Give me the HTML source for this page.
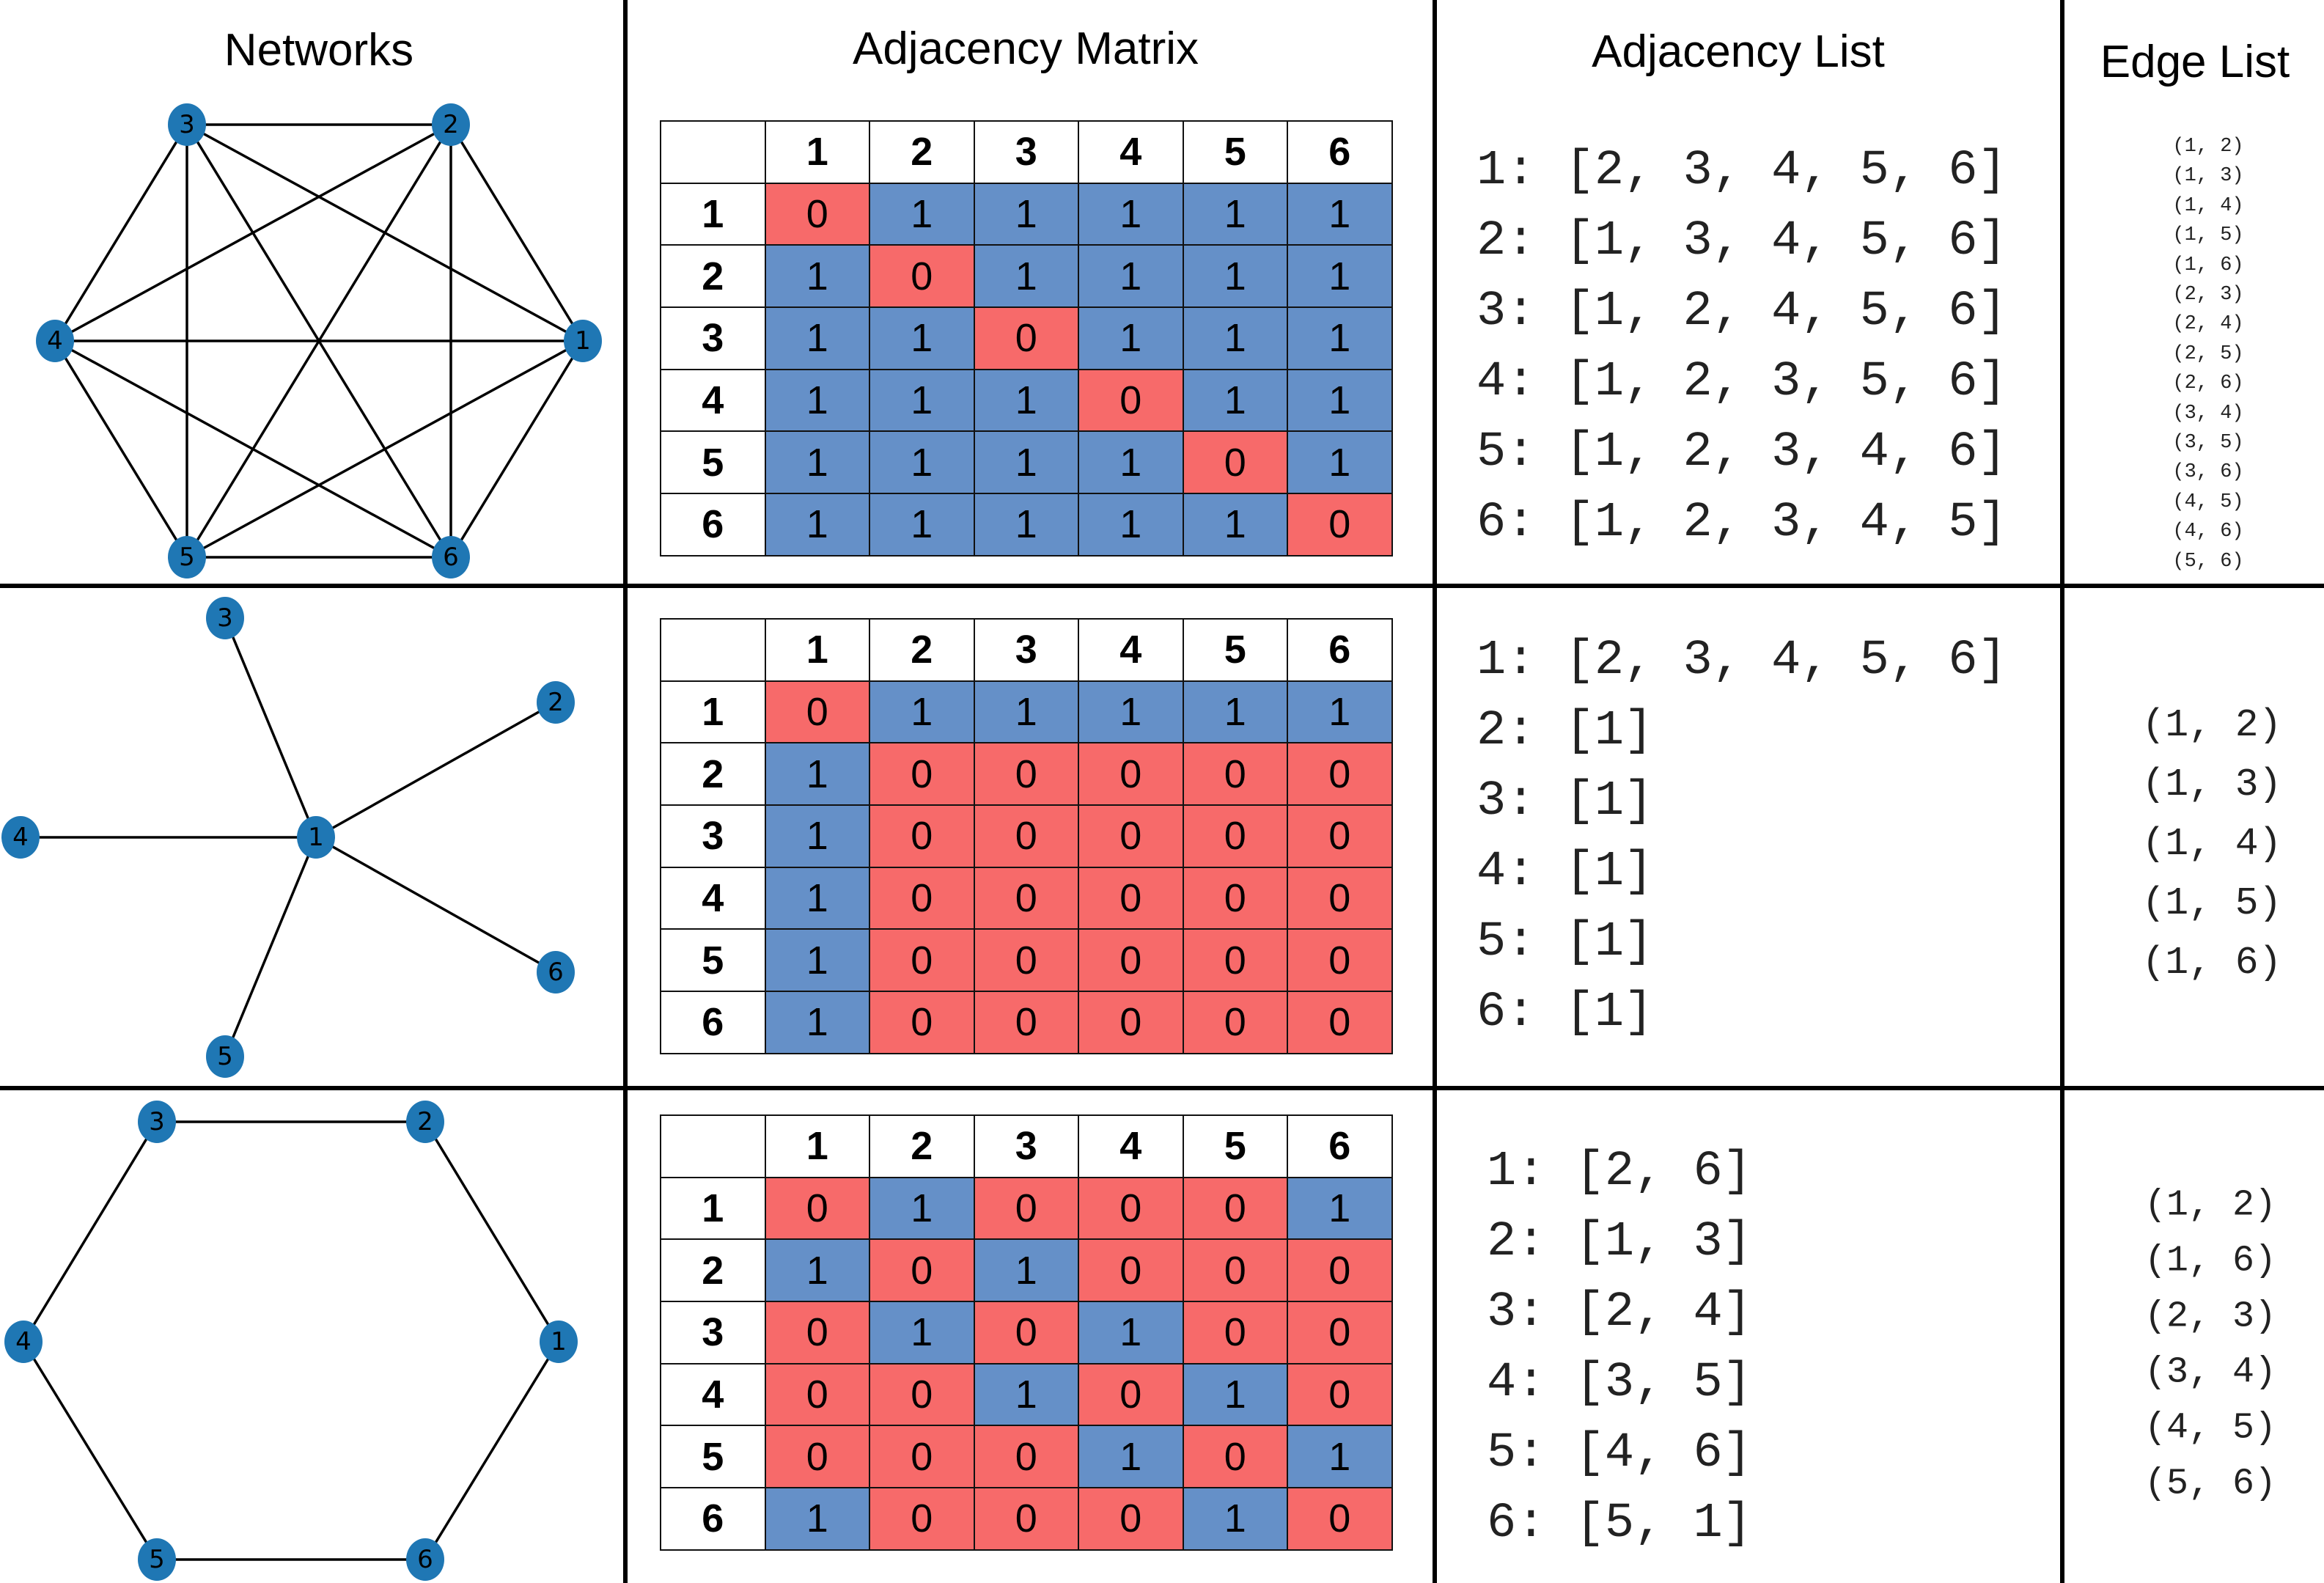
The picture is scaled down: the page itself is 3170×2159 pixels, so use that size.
<!DOCTYPE html>
<html><head><meta charset="utf-8"><style>
html,body{margin:0;padding:0;background:#fff;}
body{width:3170px;height:2159px;position:relative;overflow:hidden;font-family:"Liberation Sans",sans-serif;}
.t{position:absolute;border-collapse:collapse;left:900px;width:998px;table-layout:fixed;}
.t td{border:2px solid #111;text-align:center;font-size:54px;color:#000;padding:0;height:82.7px;width:140.5px;line-height:82px;}
.t tr:first-child td,.t td:first-child{font-weight:bold;background:#fff;}
.r{background:#f76a6a;}
.b{background:#6590c8;}
svg{position:absolute;left:0;top:0;}
</style></head><body>
<svg width="3170" height="2159" viewBox="0 0 3170 2159" xmlns="http://www.w3.org/2000/svg">
<g stroke="#000" stroke-width="6">
<line x1="853" y1="0" x2="853" y2="2159"/>
<line x1="1957" y1="0" x2="1957" y2="2159"/>
<line x1="2813" y1="0" x2="2813" y2="2159"/>
<line x1="0" y1="799" x2="3170" y2="799"/>
<line x1="0" y1="1484" x2="3170" y2="1484"/>
</g>
<g font-family="Liberation Sans, sans-serif" font-size="62" text-anchor="middle" fill="#000">
<text x="435" y="89">Networks</text>
<text x="1399" y="87">Adjacency Matrix</text>
<text x="2371" y="91">Adjacency List</text>
<text x="2994" y="105">Edge List</text>
</g>
<g stroke="#000" stroke-width="3.5">
<line x1="795" y1="465" x2="615" y2="170"/><line x1="795" y1="465" x2="255" y2="170"/><line x1="795" y1="465" x2="75" y2="465"/><line x1="795" y1="465" x2="255" y2="760"/><line x1="795" y1="465" x2="615" y2="760"/>
<line x1="615" y1="170" x2="255" y2="170"/><line x1="615" y1="170" x2="75" y2="465"/><line x1="615" y1="170" x2="255" y2="760"/><line x1="615" y1="170" x2="615" y2="760"/>
<line x1="255" y1="170" x2="75" y2="465"/><line x1="255" y1="170" x2="255" y2="760"/><line x1="255" y1="170" x2="615" y2="760"/>
<line x1="75" y1="465" x2="255" y2="760"/><line x1="75" y1="465" x2="615" y2="760"/>
<line x1="255" y1="760" x2="615" y2="760"/>
</g>
<g stroke="#000" stroke-width="3.5">
<line x1="431" y1="1142" x2="307" y2="843"/><line x1="431" y1="1142" x2="758" y2="958"/><line x1="431" y1="1142" x2="28" y2="1142"/><line x1="431" y1="1142" x2="758" y2="1326"/><line x1="431" y1="1142" x2="307" y2="1441"/>
</g>
<g stroke="#000" stroke-width="3.5" fill="none">
<polygon points="762,1830 580,1530 214,1530 32,1830 214,2127 580,2127"/>
</g>
<g fill="#1f77b4">
<ellipse cx="795" cy="465" rx="26" ry="29"/><ellipse cx="615" cy="170" rx="26" ry="29"/><ellipse cx="255" cy="170" rx="26" ry="29"/><ellipse cx="75" cy="465" rx="26" ry="29"/><ellipse cx="255" cy="760" rx="26" ry="29"/><ellipse cx="615" cy="760" rx="26" ry="29"/>
<ellipse cx="431" cy="1142" rx="26" ry="29"/><ellipse cx="758" cy="958" rx="26" ry="29"/><ellipse cx="307" cy="843" rx="26" ry="29"/><ellipse cx="28" cy="1142" rx="26" ry="29"/><ellipse cx="307" cy="1441" rx="26" ry="29"/><ellipse cx="758" cy="1326" rx="26" ry="29"/>
<ellipse cx="762" cy="1830" rx="26" ry="29"/><ellipse cx="580" cy="1530" rx="26" ry="29"/><ellipse cx="214" cy="1530" rx="26" ry="29"/><ellipse cx="32" cy="1830" rx="26" ry="29"/><ellipse cx="214" cy="2127" rx="26" ry="29"/><ellipse cx="580" cy="2127" rx="26" ry="29"/>
</g>
<g font-family="DejaVu Sans, sans-serif" font-size="34" text-anchor="middle" dominant-baseline="central" fill="#000">
<text x="795" y="465">1</text><text x="615" y="170">2</text><text x="255" y="170">3</text><text x="75" y="465">4</text><text x="255" y="760">5</text><text x="615" y="760">6</text>
<text x="431" y="1142">1</text><text x="758" y="958">2</text><text x="307" y="843">3</text><text x="28" y="1142">4</text><text x="307" y="1441">5</text><text x="758" y="1326">6</text>
<text x="762" y="1830">1</text><text x="580" y="1530">2</text><text x="214" y="1530">3</text><text x="32" y="1830">4</text><text x="214" y="2127">5</text><text x="580" y="2127">6</text>
</g>
<g font-family="Liberation Mono, monospace" font-size="67" fill="#222" dominant-baseline="central" xml:space="preserve">
<text x="2014" y="233">1: [2, 3, 4, 5, 6]</text>
<text x="2014" y="329">2: [1, 3, 4, 5, 6]</text>
<text x="2014" y="425">3: [1, 2, 4, 5, 6]</text>
<text x="2014" y="521">4: [1, 2, 3, 5, 6]</text>
<text x="2014" y="617">5: [1, 2, 3, 4, 6]</text>
<text x="2014" y="713">6: [1, 2, 3, 4, 5]</text>
<text x="2014" y="901">1: [2, 3, 4, 5, 6]</text>
<text x="2014" y="997">2: [1]</text>
<text x="2014" y="1093">3: [1]</text>
<text x="2014" y="1189">4: [1]</text>
<text x="2014" y="1285">5: [1]</text>
<text x="2014" y="1381">6: [1]</text>
<text x="2028" y="1598">1: [2, 6]</text>
<text x="2028" y="1694">2: [1, 3]</text>
<text x="2028" y="1790">3: [2, 4]</text>
<text x="2028" y="1886">4: [3, 5]</text>
<text x="2028" y="1982">5: [4, 6]</text>
<text x="2028" y="2078">6: [5, 1]</text>
</g>
<g font-family="Liberation Mono, monospace" font-size="27" fill="#222" text-anchor="middle" dominant-baseline="central" xml:space="preserve">
<text x="3012" y="200">(1, 2)</text><text x="3012" y="240">(1, 3)</text><text x="3012" y="281">(1, 4)</text><text x="3012" y="321">(1, 5)</text><text x="3012" y="362">(1, 6)</text>
<text x="3012" y="402">(2, 3)</text><text x="3012" y="442">(2, 4)</text><text x="3012" y="483">(2, 5)</text><text x="3012" y="523">(2, 6)</text><text x="3012" y="564">(3, 4)</text>
<text x="3012" y="604">(3, 5)</text><text x="3012" y="644">(3, 6)</text><text x="3012" y="685">(4, 5)</text><text x="3012" y="725">(4, 6)</text><text x="3012" y="766">(5, 6)</text>
</g>
<g font-family="Liberation Mono, monospace" font-size="53" fill="#222" text-anchor="middle" dominant-baseline="central" xml:space="preserve">
<text x="3017" y="989">(1, 2)</text><text x="3017" y="1070">(1, 3)</text><text x="3017" y="1151">(1, 4)</text><text x="3017" y="1232">(1, 5)</text><text x="3017" y="1313">(1, 6)</text>
</g>
<g font-family="Liberation Mono, monospace" font-size="50" fill="#222" text-anchor="middle" dominant-baseline="central" xml:space="preserve">
<text x="3015" y="1644">(1, 2)</text><text x="3015" y="1720">(1, 6)</text><text x="3015" y="1796">(2, 3)</text><text x="3015" y="1872">(3, 4)</text><text x="3015" y="1948">(4, 5)</text><text x="3015" y="2024">(5, 6)</text>
</g>
</svg>

<table class="t" style="top:164px">
<tr><td></td><td>1</td><td>2</td><td>3</td><td>4</td><td>5</td><td>6</td></tr>
<tr><td>1</td><td class="r">0</td><td class="b">1</td><td class="b">1</td><td class="b">1</td><td class="b">1</td><td class="b">1</td></tr>
<tr><td>2</td><td class="b">1</td><td class="r">0</td><td class="b">1</td><td class="b">1</td><td class="b">1</td><td class="b">1</td></tr>
<tr><td>3</td><td class="b">1</td><td class="b">1</td><td class="r">0</td><td class="b">1</td><td class="b">1</td><td class="b">1</td></tr>
<tr><td>4</td><td class="b">1</td><td class="b">1</td><td class="b">1</td><td class="r">0</td><td class="b">1</td><td class="b">1</td></tr>
<tr><td>5</td><td class="b">1</td><td class="b">1</td><td class="b">1</td><td class="b">1</td><td class="r">0</td><td class="b">1</td></tr>
<tr><td>6</td><td class="b">1</td><td class="b">1</td><td class="b">1</td><td class="b">1</td><td class="b">1</td><td class="r">0</td></tr>
</table>

<table class="t" style="top:843px">
<tr><td></td><td>1</td><td>2</td><td>3</td><td>4</td><td>5</td><td>6</td></tr>
<tr><td>1</td><td class="r">0</td><td class="b">1</td><td class="b">1</td><td class="b">1</td><td class="b">1</td><td class="b">1</td></tr>
<tr><td>2</td><td class="b">1</td><td class="r">0</td><td class="r">0</td><td class="r">0</td><td class="r">0</td><td class="r">0</td></tr>
<tr><td>3</td><td class="b">1</td><td class="r">0</td><td class="r">0</td><td class="r">0</td><td class="r">0</td><td class="r">0</td></tr>
<tr><td>4</td><td class="b">1</td><td class="r">0</td><td class="r">0</td><td class="r">0</td><td class="r">0</td><td class="r">0</td></tr>
<tr><td>5</td><td class="b">1</td><td class="r">0</td><td class="r">0</td><td class="r">0</td><td class="r">0</td><td class="r">0</td></tr>
<tr><td>6</td><td class="b">1</td><td class="r">0</td><td class="r">0</td><td class="r">0</td><td class="r">0</td><td class="r">0</td></tr>
</table>

<table class="t" style="top:1520px">
<tr><td></td><td>1</td><td>2</td><td>3</td><td>4</td><td>5</td><td>6</td></tr>
<tr><td>1</td><td class="r">0</td><td class="b">1</td><td class="r">0</td><td class="r">0</td><td class="r">0</td><td class="b">1</td></tr>
<tr><td>2</td><td class="b">1</td><td class="r">0</td><td class="b">1</td><td class="r">0</td><td class="r">0</td><td class="r">0</td></tr>
<tr><td>3</td><td class="r">0</td><td class="b">1</td><td class="r">0</td><td class="b">1</td><td class="r">0</td><td class="r">0</td></tr>
<tr><td>4</td><td class="r">0</td><td class="r">0</td><td class="b">1</td><td class="r">0</td><td class="b">1</td><td class="r">0</td></tr>
<tr><td>5</td><td class="r">0</td><td class="r">0</td><td class="r">0</td><td class="b">1</td><td class="r">0</td><td class="b">1</td></tr>
<tr><td>6</td><td class="b">1</td><td class="r">0</td><td class="r">0</td><td class="r">0</td><td class="b">1</td><td class="r">0</td></tr>
</table>
</body></html>
